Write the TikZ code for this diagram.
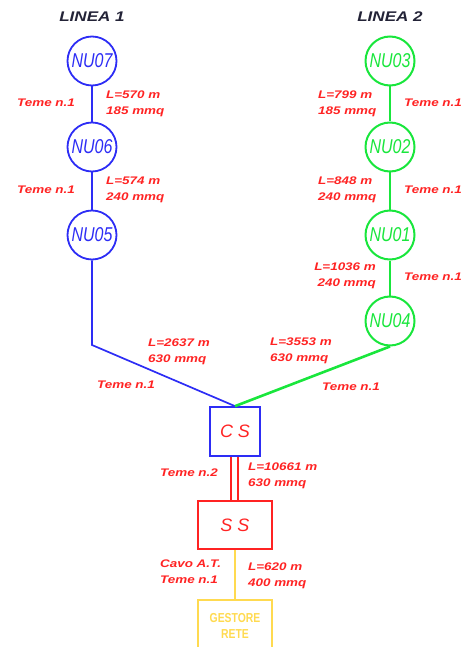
\documentclass[tikz,border=0pt]{standalone}
\usepackage{graphicx}
\usepackage{fontspec}
\setmainfont{Liberation Sans}
\definecolor{lblue}{RGB}{45,45,245}
\definecolor{lgreen}{RGB}{25,230,60}
\definecolor{lred}{RGB}{255,35,35}
\definecolor{lyellow}{RGB}{255,218,80}
\definecolor{ldark}{RGB}{35,35,55}
% wide bold-italic labels, one or two lines
\newcommand\wide[1]{\scalebox{1.22}[1]{#1}}
\newcommand\pairl[2]{\wide{\begin{tabular}{@{}l@{}}#1\\#2\end{tabular}}}
\newcommand\pairr[2]{\wide{\begin{tabular}{@{}r@{}}#1\\#2\end{tabular}}}
\newcommand\narrow[2]{\scalebox{#1}[1]{#2}}
\begin{document}
\begin{tikzpicture}[x=1pt,y=-1pt,
  bluenode/.style={circle,draw=lblue,line width=1.8pt,minimum size=49pt,inner sep=0pt,
    text=lblue,font=\fontsize{20}{22}\selectfont\itshape},
  greennode/.style={circle,draw=lgreen,line width=2pt,minimum size=49pt,inner sep=0pt,
    text=lgreen,font=\fontsize{20}{22}\selectfont\itshape},
  bluewire/.style={draw=lblue,line width=1.7pt},
  greenwire/.style={draw=lgreen,line width=2.6pt},
  redwire/.style={draw=lred,line width=2pt},
  yellowwire/.style={draw=lyellow,line width=1.7pt},
  lbl/.style={inner sep=0pt,text=lred,font=\fontsize{11}{16.5}\selectfont\bfseries\itshape},
  title/.style={inner sep=0pt,text=ldark,font=\fontsize{14}{16}\selectfont\bfseries\itshape},
  station/.style={rectangle,inner sep=0pt,text=lred,font=\fontsize{18}{20}\selectfont\itshape}
]
\useasboundingbox (0,0) rectangle (462,647);

% line titles
\node[title] (t1) at (92,17) {\wide{LINEA 1}};
\node[title] (t2) at (390,17) {\wide{LINEA 2}};

% line 1 nodes
\node[bluenode] (nu07) at (92,61) {\narrow{0.8}{NU07}};
\node[bluenode] (nu06) at (92,147) {\narrow{0.8}{NU06}};
\node[bluenode] (nu05) at (92,235) {\narrow{0.8}{NU05}};

% line 2 nodes
\node[greennode] (nu03) at (390,61) {\narrow{0.8}{NU03}};
\node[greennode] (nu02) at (390,147) {\narrow{0.8}{NU02}};
\node[greennode] (nu01) at (390,235) {\narrow{0.8}{NU01}};
\node[greennode] (nu04) at (390,321) {\narrow{0.8}{NU04}};

% stations
\node[station,draw=lblue,line width=1.7pt,minimum width=50pt,minimum height=49pt] (cs) at (235,431.5) {C S};
\node[station,draw=lred,line width=1.7pt,minimum width=74pt,minimum height=48pt] (ss) at (235,525) {S S};
\node[rectangle,draw=lyellow,line width=1.7pt,minimum width=74pt,minimum height=52pt,inner sep=0pt,
  text=lyellow,align=center,font=\fontsize{13}{16}\selectfont\bfseries] (gr) at (235,626)
  {\narrow{0.8}{GESTORE}\\\narrow{0.8}{RETE}};

% junction bend
\coordinate (b1) at (92,345);

% line 1 wiring
\draw[bluewire] (nu07) -- (nu06);
\draw[bluewire] (nu06) -- (nu05);
\draw[bluewire] (nu05.south) -- (b1) -- (cs.north);

% line 2 wiring
\draw[greenwire] (nu03) -- (nu02);
\draw[greenwire] (nu02) -- (nu01);
\draw[greenwire] (nu01) -- (nu04);
\draw[greenwire] (nu04.south) -- (cs.north);

% station links
\draw[redwire] ([xshift=-4pt]cs.south) -- ([xshift=-4pt]ss.north);
\draw[redwire] ([xshift=3pt]cs.south) -- ([xshift=3pt]ss.north);
\draw[yellowwire] (ss.south) -- (gr.north);

% cable data, line 1
\node[lbl,anchor=west] (l1) at (17,103) {\wide{Teme n.1}};
\node[lbl,anchor=west] (d1) at (106,103) {\pairl{L=570 m}{185 mmq}};
\node[lbl,anchor=west] (l2) at (17,190) {\wide{Teme n.1}};
\node[lbl,anchor=west] (d2) at (106,189) {\pairl{L=574 m}{240 mmq}};

% cable data, line 2
\node[lbl,anchor=west] (d3) at (318,103) {\pairl{L=799 m}{185 mmq}};
\node[lbl,anchor=west] (l3) at (404,103) {\wide{Teme n.1}};
\node[lbl,anchor=west] (d4) at (318,189) {\pairl{L=848 m}{240 mmq}};
\node[lbl,anchor=west] (l4) at (404,190) {\wide{Teme n.1}};
\node[lbl,anchor=east] (d5) at (376,275) {\pairr{L=1036 m}{240 mmq}};
\node[lbl,anchor=west] (l5) at (404,277) {\wide{Teme n.1}};

% feeders to CS
\node[lbl,anchor=west] (d6) at (148,351) {\pairl{L=2637 m}{630 mmq}};
\node[lbl,anchor=west] (l6) at (97,385) {\wide{Teme n.1}};
\node[lbl,anchor=west] (d7) at (270,350) {\pairl{L=3553 m}{630 mmq}};
\node[lbl,anchor=west] (l7) at (322,387) {\wide{Teme n.1}};

% CS to SS
\node[lbl,anchor=west] (l8) at (160,473) {\wide{Teme n.2}};
\node[lbl,anchor=west] (d8) at (248,475) {\pairl{L=10661 m}{630 mmq}};

% SS to grid
\node[lbl,anchor=west] (l9) at (160,572) {\pairl{Cavo A.T.}{Teme n.1}};
\node[lbl,anchor=west] (d9) at (248,575) {\pairl{L=620 m}{400 mmq}};
\end{tikzpicture}
\end{document}
